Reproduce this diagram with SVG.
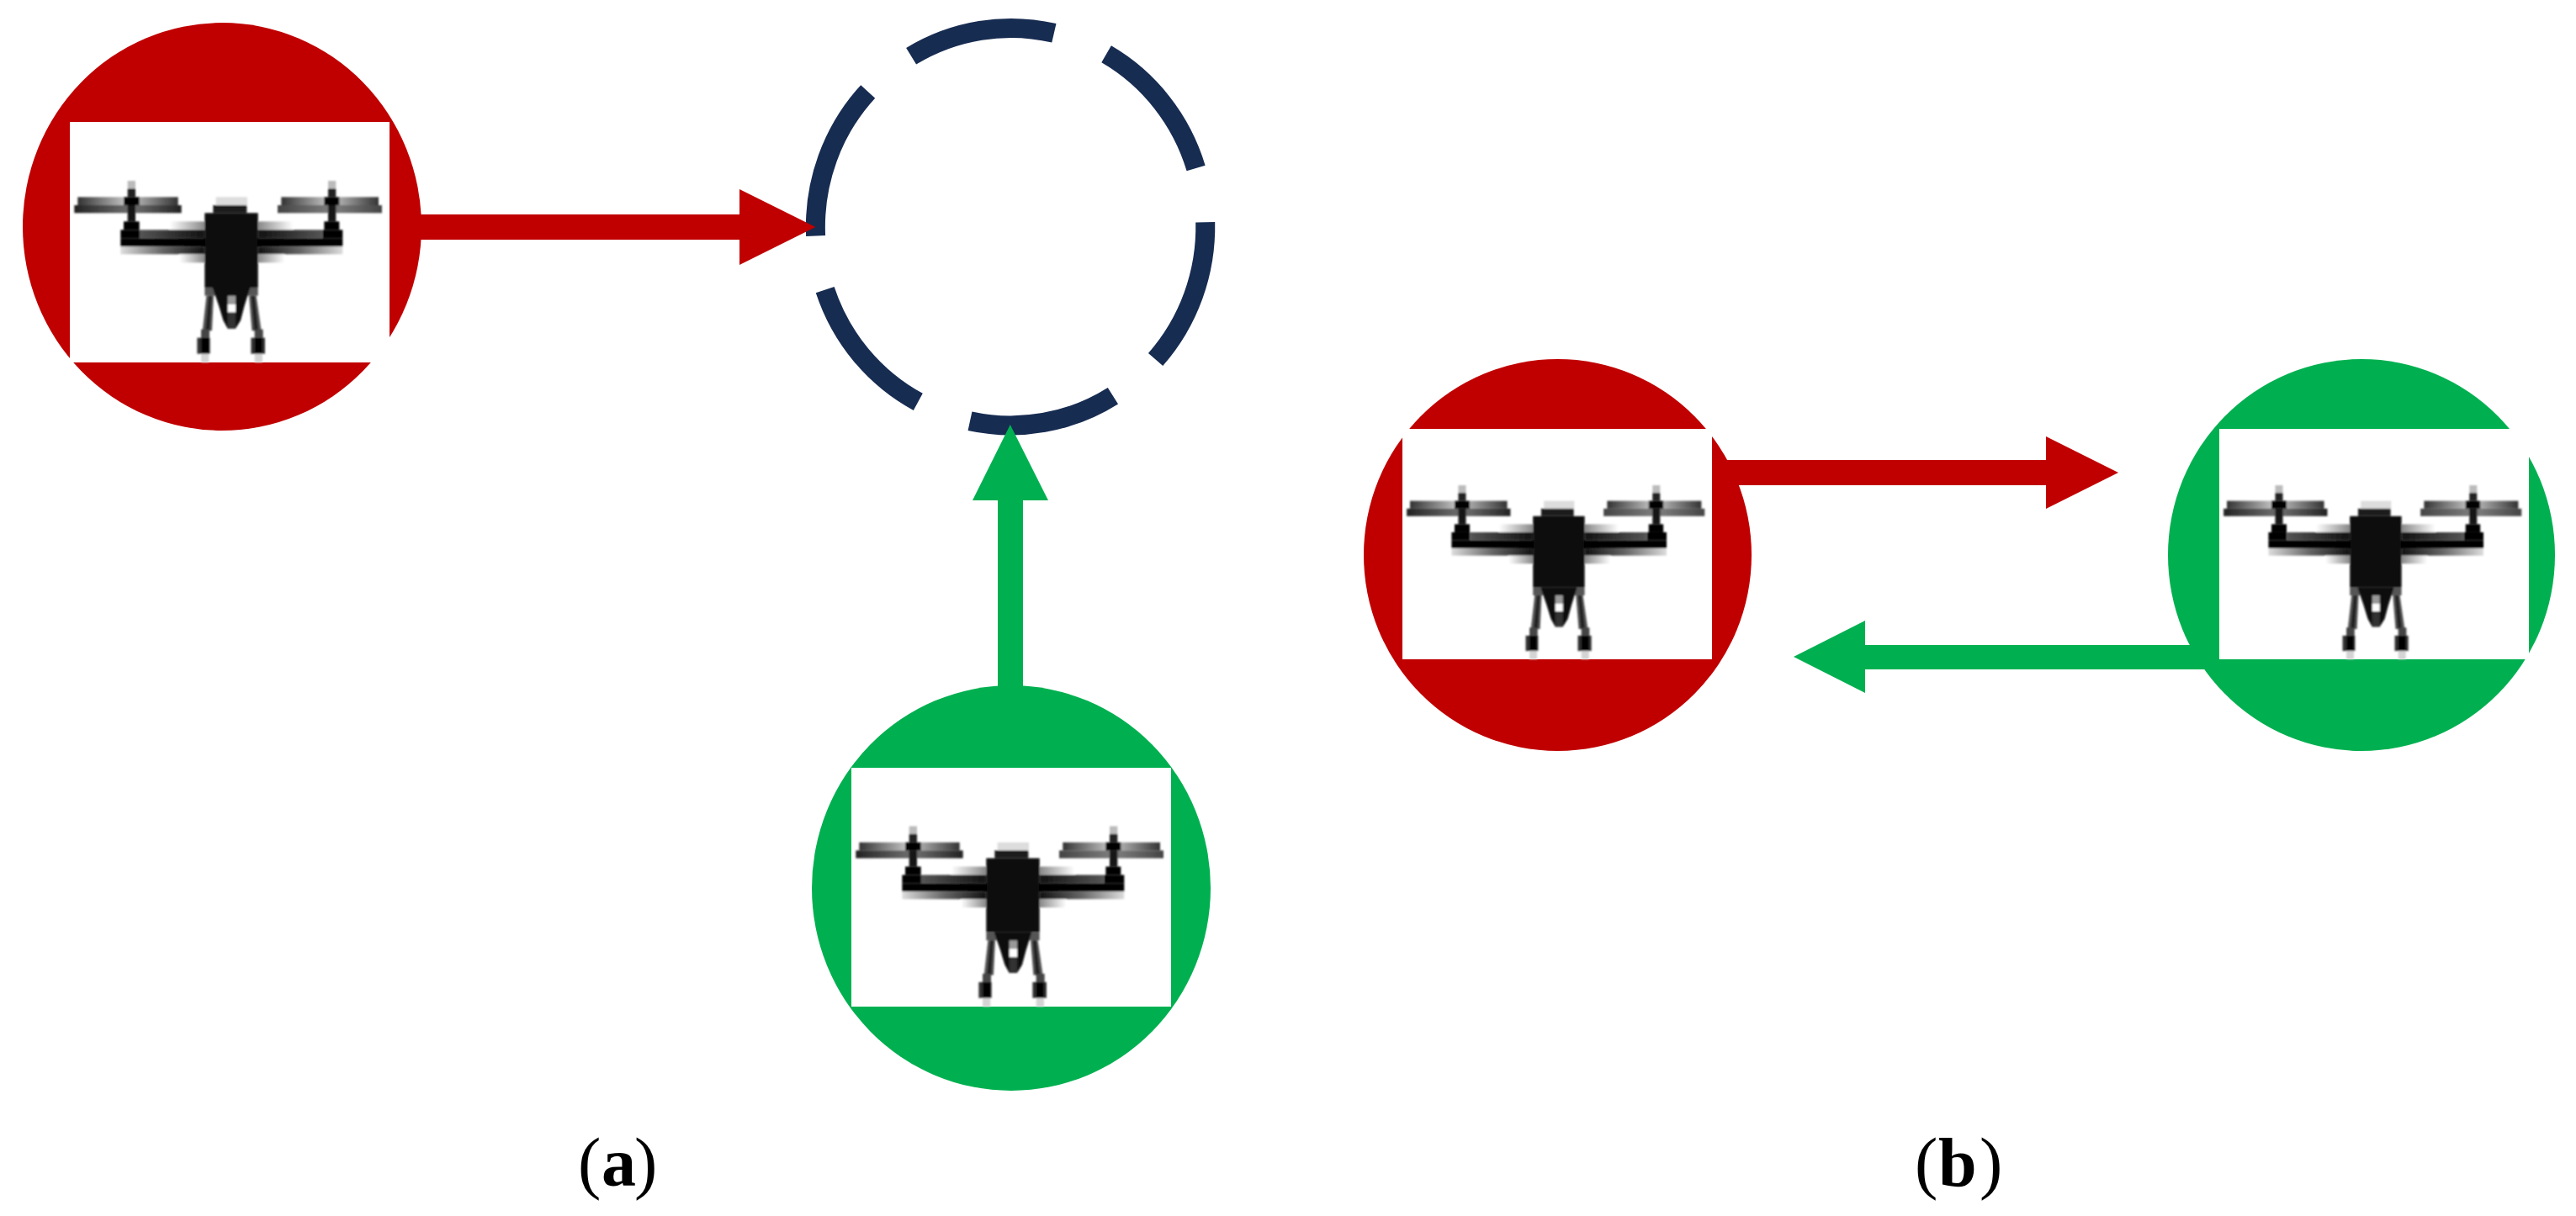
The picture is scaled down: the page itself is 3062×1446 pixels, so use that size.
<svg xmlns="http://www.w3.org/2000/svg" width="3062" height="1446" viewBox="0 0 3062 1446">
<style>
.red{fill:#C00000}
.green{fill:#00B050}
.pic{fill:#fff}
.dash{fill:none;stroke:#172C51;stroke-width:23;stroke-linecap:butt}
.cap{font-family:"Liberation Serif","Times New Roman",serif;font-size:82px;fill:#000}
.cap tspan.l{font-weight:bold}
</style>
<defs>
<filter id="soft" x="-5%" y="-5%" width="110%" height="110%"><feGaussianBlur stdDeviation="2.5"/></filter>
<linearGradient id="pL1"><stop offset="0" stop-color="#333"/><stop offset=".45" stop-color="#bbb"/><stop offset=".55" stop-color="#bbb"/><stop offset="1" stop-color="#333"/></linearGradient>
<linearGradient id="pL2"><stop offset="0" stop-color="#222"/><stop offset=".45" stop-color="#666"/><stop offset=".6" stop-color="#666"/><stop offset="1" stop-color="#222"/></linearGradient>
<linearGradient id="pR2"><stop offset="0" stop-color="#444"/><stop offset=".45" stop-color="#777"/><stop offset=".6" stop-color="#777"/><stop offset="1" stop-color="#444"/></linearGradient>
<linearGradient id="fadeIn"><stop offset="0" stop-color="#fff"/><stop offset="1" stop-color="#888"/></linearGradient>
<linearGradient id="fadeOut"><stop offset="0" stop-color="#888"/><stop offset="1" stop-color="#fff"/></linearGradient>
<linearGradient id="lowL"><stop offset="0" stop-color="#ddd"/><stop offset=".5" stop-color="#666"/><stop offset="1" stop-color="#111"/></linearGradient>
<linearGradient id="lowR"><stop offset="0" stop-color="#111"/><stop offset=".5" stop-color="#666"/><stop offset="1" stop-color="#ddd"/></linearGradient>
<linearGradient id="upL"><stop offset="0" stop-color="#555"/><stop offset="1" stop-color="#111"/></linearGradient>
<linearGradient id="upR"><stop offset="0" stop-color="#111"/><stop offset="1" stop-color="#555"/></linearGradient>
<g id="drone" filter="url(#soft)">
<rect x="277" y="403" width="358" height="29" fill="url(#pL1)"/>
<rect x="265" y="432" width="382" height="28" fill="url(#pL2)"/>
<rect x="1003" y="403" width="347" height="29" fill="url(#pL1)"/>
<rect x="990" y="432" width="372" height="28" fill="url(#pR2)"/>
<rect x="455" y="345" width="28" height="28" fill="#bbb"/>
<rect x="1170" y="345" width="28" height="28" fill="#bbb"/>
<rect x="455" y="373" width="28" height="30" fill="#222"/>
<rect x="1170" y="373" width="28" height="30" fill="#222"/>
<rect x="441" y="403" width="56" height="29" fill="#050505"/>
<rect x="1156" y="403" width="54" height="29" fill="#050505"/>
<rect x="455" y="432" width="28" height="58" fill="#151515"/>
<rect x="1170" y="432" width="28" height="58" fill="#151515"/>
<rect x="441" y="490" width="56" height="30" fill="#000"/>
<rect x="1156" y="490" width="54" height="30" fill="#000"/>
<rect x="605" y="490" width="125" height="30" fill="url(#fadeIn)"/>
<rect x="920" y="490" width="125" height="30" fill="url(#fadeOut)"/>
<rect x="430" y="520" width="68" height="30" fill="#000"/>
<rect x="1150" y="520" width="72" height="30" fill="#000"/>
<rect x="498" y="520" width="232" height="30" fill="url(#upL)"/>
<rect x="920" y="520" width="230" height="30" fill="url(#upR)"/>
<rect x="430" y="550" width="792" height="30" fill="#000"/>
<rect x="430" y="580" width="300" height="27" fill="url(#lowL)"/>
<rect x="920" y="580" width="302" height="27" fill="url(#lowR)"/>
<rect x="640" y="607" width="90" height="30" fill="url(#fadeIn)"/>
<rect x="920" y="607" width="95" height="30" fill="url(#fadeOut)"/>
<rect x="770" y="403" width="112" height="29" fill="#ddd"/>
<rect x="760" y="432" width="120" height="28" fill="#1a1a1a"/>
<rect x="730" y="460" width="190" height="266" fill="#090909"/>
<rect x="730" y="726" width="190" height="29" fill="#555"/>
<polygon points="758,726 892,726 872,790 858,843 840,872 812,872 796,843 780,790" fill="#0a0a0a"/>
<rect x="812" y="755" width="28" height="30" fill="#999"/>
<rect x="812" y="785" width="28" height="30" fill="#fff"/>
<rect x="812" y="815" width="28" height="57" fill="#333"/>
<polygon points="736,755 762,755 756,880 722,880" fill="#555"/>
<polygon points="888,755 914,755 932,880 898,880" fill="#555"/>
<polygon points="744,755 756,755 748,880 732,880" fill="#222"/>
<polygon points="896,755 908,755 922,880 906,880" fill="#222"/>
<rect x="717" y="875" width="30" height="30" fill="#444"/>
<rect x="908" y="875" width="30" height="30" fill="#444"/>
<rect x="703" y="905" width="46" height="57" fill="#333"/>
<rect x="717" y="905" width="28" height="57" fill="#000"/>
<rect x="895" y="905" width="50" height="57" fill="#333"/>
<rect x="908" y="905" width="28" height="57" fill="#000"/>
<rect x="717" y="962" width="28" height="31" fill="#d4d4d4"/>
<rect x="908" y="962" width="28" height="31" fill="#d4d4d4"/>
</g>
</defs>
<rect width="3062" height="1446" fill="#fff"/>
<g id="target">
<path class="dash" d="M969.6 280.4A231.5 236 0 0 1 1031.7 108.9"/>
<path class="dash" d="M1083.1 66.8A231.5 236 0 0 1 1252.9 39.3"/>
<path class="dash" d="M1315.1 64.3A231.5 236 0 0 1 1421.6 200"/>
<path class="dash" d="M1432.7 264.3A231.5 236 0 0 1 1373.6 427.5"/>
<path class="dash" d="M1322.9 470.7A231.5 236 0 0 1 1153 500.7"/>
<path class="dash" d="M1091.3 477.9A231.5 236 0 0 1 980.7 344.6"/>
</g>
<g id="connectors">
<polygon class="red" points="480,255 879,255 879,225 969.4,270 879,315 879,285 480,285"/>
<polygon class="green" points="1186,830 1186,595 1156,595 1200.8,505 1246,595 1216,595 1216,830"/>
<polygon class="red" points="2030,547 2432,547 2432,519 2518,562 2432,605 2432,577 2030,577"/>
<polygon class="green" points="2640,767 2217,767 2217,738 2132,781 2217,824 2217,796 2640,796"/>
</g>
<g id="uav-a-red">
<ellipse class="red" cx="264" cy="269.5" rx="237" ry="242.5"/>
<rect class="pic" x="83" y="145" width="380" height="286"/>
<use href="#drone" transform="translate(0 100) scale(.33333)"/>
</g>
<g id="uav-a-green">
<ellipse class="green" cx="1202" cy="1056" rx="237" ry="241"/>
<rect class="pic" x="1012" y="913" width="380" height="284"/>
<use href="#drone" transform="translate(929 868.3) scale(.33333 .331)"/>
</g>
<g id="uav-b-red">
<ellipse class="red" cx="1851.5" cy="660" rx="230.5" ry="233"/>
<rect class="pic" x="1667" y="510" width="368" height="274"/>
<use href="#drone" transform="translate(1586.6 466.9) scale(.3228 .3193)"/>
</g>
<g id="uav-b-green">
<ellipse class="green" cx="2807" cy="660" rx="230" ry="233"/>
<rect class="pic" x="2638" y="510" width="368" height="274"/>
<use href="#drone" transform="translate(2557.6 466.9) scale(.3228 .3193)"/>
</g>
<text class="cap" y="1410"><tspan x="687">(</tspan><tspan class="l" x="715">a</tspan><tspan x="754">)</tspan></text>
<text class="cap" y="1410"><tspan x="2276">(</tspan><tspan class="l" x="2304">b</tspan><tspan x="2353">)</tspan></text>
</svg>
